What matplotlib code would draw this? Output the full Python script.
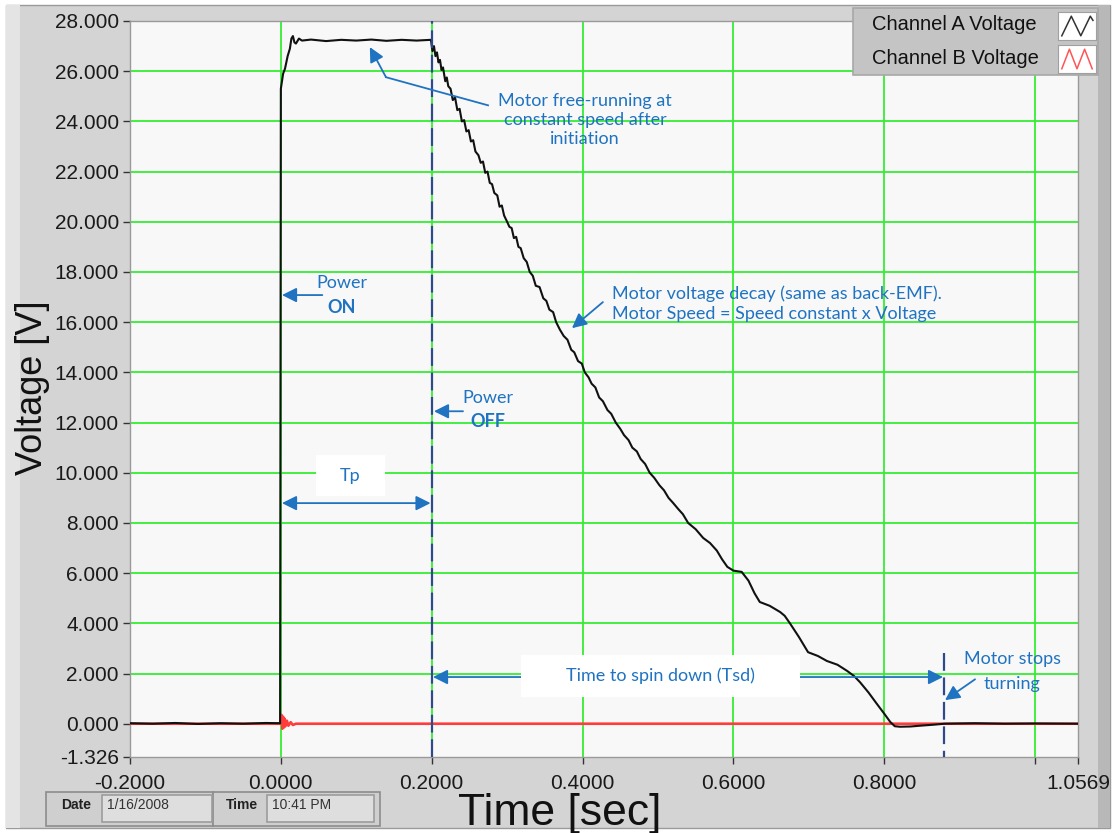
import matplotlib
matplotlib.use("Agg")
import matplotlib.pyplot as plt
from matplotlib.patches import Rectangle

# ── data ──────────────────────────────────────────────────────
chA_t = [-0.200, -0.170, -0.140, -0.110, -0.080, -0.050, -0.020, -0.001,
         0.000, 0.003, 0.0055, 0.009, 0.012, 0.014, 0.016, 0.018, 0.020,
         0.024, 0.028, 0.040, 0.060, 0.080, 0.100, 0.120, 0.140, 0.160,
         0.180, 0.199,
         0.201, 0.203, 0.205, 0.207, 0.209, 0.211, 0.213, 0.215, 0.218,
         0.220, 0.222, 0.225, 0.228, 0.231, 0.234, 0.237, 0.240, 0.243,
         0.246, 0.249, 0.252, 0.255, 0.258, 0.262, 0.265, 0.268, 0.271,
         0.274, 0.277, 0.280, 0.283, 0.287, 0.290, 0.293, 0.296, 0.300,
         0.303, 0.306, 0.309, 0.312, 0.315, 0.318, 0.322, 0.326, 0.330,
         0.334, 0.338, 0.343, 0.348, 0.352, 0.356, 0.361, 0.365, 0.370,
         0.375, 0.380, 0.385, 0.389, 0.394, 0.399, 0.403, 0.408, 0.412,
         0.417, 0.422, 0.427, 0.433, 0.438, 0.444, 0.450, 0.455, 0.461,
         0.466, 0.472, 0.477, 0.483, 0.489, 0.495, 0.502, 0.508, 0.514,
         0.520, 0.527, 0.533, 0.540,
         0.550, 0.560, 0.569, 0.578, 0.585, 0.592, 0.600, 0.611, 0.620,
         0.628, 0.635, 0.648, 0.662, 0.668, 0.675, 0.687, 0.699, 0.712,
         0.724, 0.738, 0.751, 0.760, 0.768, 0.779, 0.790, 0.800, 0.808,
         0.814, 0.821, 0.835, 0.847, 0.865, 0.880, 0.920, 0.960, 1.000,
         1.0569]
chA_v = [0.02, 0.00, 0.03, -0.01, 0.02, 0.00, 0.03, 0.02,
         25.30, 25.90, 26.10, 26.60, 26.90, 27.30, 27.40, 27.15, 27.10,
         27.30, 27.22, 27.26, 27.20, 27.25, 27.22, 27.26, 27.21, 27.25,
         27.22, 27.25,
         26.80, 27.00, 26.60, 26.75, 26.35, 26.45, 26.05, 26.15, 25.60,
         25.75, 25.40, 25.30, 24.85, 24.95, 24.45, 24.50, 24.00, 24.05,
         23.60, 23.65, 23.20, 23.25, 22.80, 22.65, 22.35, 22.40, 21.95,
         22.00, 21.55, 21.50, 21.15, 21.05, 20.60, 20.65, 20.25, 20.00,
         19.80, 19.75, 19.35, 19.40, 19.00, 18.95, 18.55, 18.40, 18.00,
         17.85, 17.45, 17.40, 16.95, 16.85, 16.50, 16.40, 16.00, 15.70,
         15.45, 15.30, 14.90, 14.80, 14.45, 14.35, 14.00, 13.80, 13.55,
         13.40, 13.00, 12.85, 12.50, 12.35, 12.00, 11.75, 11.50, 11.30,
         11.00, 10.85, 10.55, 10.35, 10.00, 9.80, 9.50, 9.30, 9.00,
         8.80, 8.55, 8.35, 8.00,
         7.75, 7.40, 7.20, 6.90, 6.55, 6.25, 6.10, 6.05, 5.70,
         5.20, 4.85, 4.70, 4.45, 4.30, 4.00, 3.45, 2.85, 2.70,
         2.50, 2.35, 2.10, 1.90, 1.65, 1.25, 0.80, 0.40, 0.07,
         -0.10, -0.12, -0.11, -0.08, -0.04, 0.00, 0.02, 0.00, 0.01,
         0.00]

chB_t = [-0.200, 0.000, 0.001, 0.002, 0.003, 0.004, 0.005, 0.006, 0.008,
         0.010, 0.013, 0.016, 0.020, 0.200, 0.500, 0.800, 1.0569]
chB_v = [0.00, 0.00, 0.35, -0.20, 0.28, -0.15, 0.20, -0.10, 0.12,
         -0.08, 0.06, -0.05, 0.00, 0.00, 0.00, 0.00, 0.00]

x_ticks = [-0.2, 0.0, 0.2, 0.4, 0.6, 0.8, 1.0, 1.0569]
x_labels = ["-0.2000", "0.0000", "0.2000", "0.4000", "0.6000", "0.8000", "", "1.0569"]
y_ticks = [-1.326, 0, 2, 4, 6, 8, 10, 12, 14, 16, 18, 20, 22, 24, 26, 28]
y_labels = ["-1.326"] + [f"{v:.3f}" for v in y_ticks[1:]]
grid_x = [0.0, 0.2, 0.4, 0.6, 0.8, 1.0]
grid_y = [2, 4, 6, 8, 10, 12, 14, 16, 18, 20, 22, 24, 26]

t_power_off = 0.2
t_stop = 0.8795

# ── figure ───────────────────────────────────────────────────
W, H = 1116, 833
plt.rcParams["font.family"] = ["Liberation Sans", "DejaVu Sans"]
fig = plt.figure(figsize=(W / 100, H / 100), dpi=100, facecolor="white")

def px(x0, y0, w, h):
    # pixel box (top-left origin) -> figure fraction rect
    return (x0 / W, 1 - (y0 + h) / H), w / W, h / H

# gray LabVIEW panel (behind everything)
for (x0, y0, w, h), fc, ec in [
    ((6, 5, 1104, 823), "#d4d4d4", "#9a9a9a"),
    ((6, 5, 14, 823), "#e4e4e4", "none"),
    ((1098, 5, 12, 823), "#b8b8b8", "none"),
]:
    xy, ww, hh = px(x0, y0, w, h)
    fig.patches.append(Rectangle(xy, ww, hh, transform=fig.transFigure,
                                 facecolor=fc, edgecolor=ec, lw=1, zorder=-5))

ax = fig.add_axes([130 / W, 1 - 757 / H, 948 / W, 736 / H])
ax.set_zorder(5)
ax.set_facecolor("#f8f8f8")
ax.set_xlim(-0.2, 1.0569)
ax.set_ylim(-1.326, 28.0)

for gx in grid_x:
    ax.axvline(gx, color="#33ee33", lw=1.3, zorder=1)
for gy in grid_y:
    ax.axhline(gy, color="#33ee33", lw=1.3, zorder=1)

ax.plot(chB_t, chB_v, color="#ff3b3b", lw=1.9, zorder=3)
ax.plot(chA_t, chA_v, color="#111111", lw=1.5, zorder=4)

dash_col = "#2f4a8a"
ax.plot([t_power_off, t_power_off], [-1.326, 28.0], color=dash_col,
        lw=1.6, ls=(0, (8, 3)), zorder=5)
ax.plot([t_stop, t_stop], [2.8, -1.326], color=dash_col,
        lw=1.6, ls=(0, (8, 3)), zorder=5)

ax.set_xticks(x_ticks, x_labels)
ax.set_yticks(y_ticks, y_labels)
ax.tick_params(axis="both", labelsize=15, colors="#333333",
               labelcolor="#1a1a1a", length=5, width=1)
ax.tick_params(axis="x", pad=7)
ax.tick_params(axis="y", pad=3)
for s in ax.spines.values():
    s.set_color("#9a9a9a")
    s.set_linewidth(1)

fig.text(560 / W, 1 - 813 / H, "Time [sec]", fontsize=32, ha="center",
         va="center", color="#111111")
fig.text(33 / W, 1 - 388 / H, "Voltage [V]", fontsize=26, rotation=90,
         ha="center", va="center", color="#111111")

# ── annotations ──────────────────────────────────────────────
blue = "#1f73c1"
afont = dict(family=["Lato", "DejaVu Sans"], color=blue, fontsize=13)
arr = dict(arrowstyle="-|>", color=blue, lw=1.3, mutation_scale=22,
           shrinkA=0, shrinkB=0)
darr = dict(arrowstyle="<|-|>", color=blue, lw=1.3, mutation_scale=22,
            shrinkA=0, shrinkB=0)

# Power ON
ax.annotate("", xy=(0.0015, 17.08), xytext=(0.055, 17.08), arrowprops=arr, zorder=6)
ax.text(0.081, 17.56, "Power", ha="center", va="center", **afont)
ax.text(0.081, 16.6, "ON", ha="center", va="center", fontweight="bold", **afont)

# Power OFF
ax.annotate("", xy=(0.203, 12.45), xytext=(0.2415, 12.45), arrowprops=arr, zorder=6)
ax.text(0.2747, 12.98, "Power", ha="center", va="center", **afont)
ax.text(0.2747, 12.06, "OFF", ha="center", va="center", fontweight="bold", **afont)

# Tp
ax.add_patch(Rectangle((0.0466, 9.07), 0.0915, 1.64, facecolor="white",
                       edgecolor="none", zorder=5))
ax.text(0.0917, 9.87, "Tp", ha="center", va="center", zorder=6, **afont)
ax.annotate("", xy=(0.0015, 8.79), xytext=(0.1985, 8.79), arrowprops=darr, zorder=6)

# free-running
ax.plot([0.2747, 0.1394], [24.64, 25.76], color=blue, lw=1.3, zorder=6)
ax.annotate("", xy=(0.118, 26.96), xytext=(0.1394, 25.76), arrowprops=arr, zorder=6)
ax.text(0.4033, 24.05, "Motor free-running at\nconstant speed after\ninitiation",
        ha="center", va="center", linespacing=1.25, zorder=6, **afont)

# decay
ax.annotate("", xy=(0.386, 15.76), xytext=(0.427, 16.8), arrowprops=arr, zorder=6)
ax.text(0.439, 16.74, "Motor voltage decay (same as back-EMF).\n"
        "Motor Speed = Speed constant x Voltage",
        ha="left", va="center", linespacing=1.25, zorder=6, **afont)

# Tsd
ax.annotate("", xy=(0.2017, 1.86), xytext=(0.878, 1.86), arrowprops=darr, zorder=6)
ax.add_patch(Rectangle((0.3184, 1.07), 0.3696, 1.67, facecolor="white",
                       edgecolor="none", zorder=6))
ax.text(0.5027, 1.9, "Time to spin down (Tsd)", ha="center", va="center",
        zorder=7, **afont)

# motor stops
ax.annotate("", xy=(0.8806, 0.94), xytext=(0.9204, 1.77), arrowprops=arr, zorder=6)
ax.text(0.9695, 2.58, "Motor stops", ha="center", va="center", zorder=6, **afont)
ax.text(0.9695, 1.58, "turning", ha="center", va="center", zorder=6, **afont)

# ── legend box (LabVIEW style) ───────────────────────────────
xy, ww, hh = px(853, 8, 245, 67)
fig.patches.append(Rectangle(xy, ww, hh, transform=fig.transFigure,
                             facecolor="#c4c4c4", edgecolor="#a8a8a8", lw=1.2, zorder=10))
fig.text(872 / W, 1 - 25 / H, "Channel A Voltage", fontsize=14.5,
         va="center", color="#111111", zorder=11)
fig.text(872 / W, 1 - 58 / H, "Channel B Voltage", fontsize=14.5,
         va="center", color="#111111", zorder=11)

swatch_a_x = [0.1, 0.35, 0.6, 0.85, 0.92]
swatch_a_y = [0.15, 0.85, 0.15, 0.85, 0.7]
swatch_b_x = [0.1, 0.3, 0.5, 0.7, 0.9]
swatch_b_y = [0.15, 0.85, 0.15, 0.85, 0.15]
for y0, sx, sy, col in [(12, swatch_a_x, swatch_a_y, "#333333"),
                        (45, swatch_b_x, swatch_b_y, "#ff5555")]:
    xy, ww, hh = px(1058, y0, 38, 28)
    sax = fig.add_axes([xy[0], xy[1], ww, hh])
    sax.set_zorder(12)
    sax.set_facecolor("white")
    sax.plot(sx, sy, color=col, lw=1.1)
    sax.set_xlim(0, 1)
    sax.set_ylim(0, 1)
    sax.set_xticks([])
    sax.set_yticks([])
    for s in sax.spines.values():
        s.set_color("#a0a0a0")

# ── date / time widgets ──────────────────────────────────────
for (bx, bw, label, fx, fw, value) in [(46, 167, "Date", 102, 110, "1/16/2008"),
                                       (213, 167, "Time", 267, 107, "10:41 PM")]:
    xy, ww, hh = px(bx, 792, bw, 34)
    fig.patches.append(Rectangle(xy, ww, hh, transform=fig.transFigure,
                                 facecolor="#cfcfcf", edgecolor="#8c8c8c", lw=1.2, zorder=2))
    xy, ww, hh = px(fx, 795, fw, 27)
    fig.patches.append(Rectangle(xy, ww, hh, transform=fig.transFigure,
                                 facecolor="#dedede", edgecolor="#9c9c9c", lw=1.2, zorder=3))
    fig.text((bx + fx) / 2 / W + 0.002, 1 - 805 / H, label, fontsize=10,
             fontweight="bold", ha="center", va="center", color="#222222", zorder=4)
    fig.text((fx + 5) / W, 1 - 805 / H, value, fontsize=10,
             ha="left", va="center", color="#333333", zorder=4)

fig.savefig("out.png", dpi=100, facecolor="white")
